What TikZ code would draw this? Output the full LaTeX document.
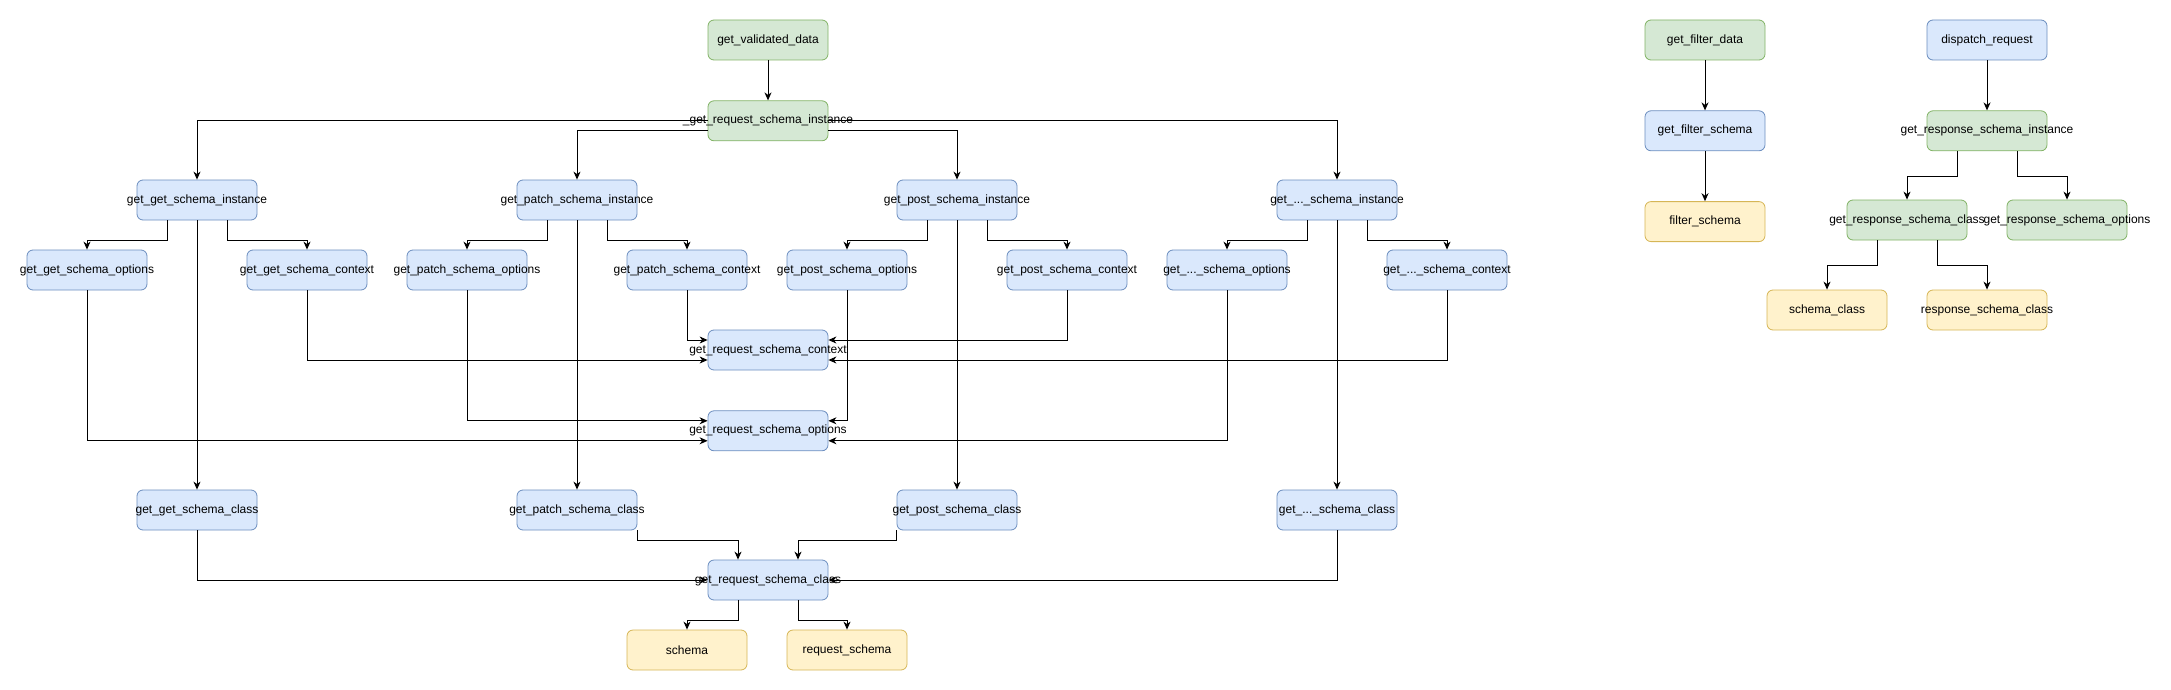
\documentclass[tikz,border=0pt]{standalone}
\usepackage{fontspec}
\setmainfont{Liberation Sans}
\usepackage{xcolor}
\usepackage{tikz}
\usetikzlibrary{arrows.meta, positioning, calc}

\definecolor{greenfill}{HTML}{D5E8D4}
\definecolor{greendraw}{HTML}{82B366}
\definecolor{bluefill}{HTML}{DAE8FC}
\definecolor{bluedraw}{HTML}{6C8EBF}
\definecolor{yellowfill}{HTML}{FFF2CC}
\definecolor{yellowdraw}{HTML}{D6B656}

\begin{document}
\begin{tikzpicture}[
			x=1pt, y=-1pt,
			font=\fontsize{12}{14}\selectfont,
			block/.style = {rectangle, draw, rounded corners=6pt, line width=0.8pt,
					minimum width=120pt, minimum height=40pt, inner sep=0pt,
					execute at begin node={\hbox to 0pt\bgroup\hss},
					execute at end node={\hss\egroup}},
			greenblock/.style = {block, draw=greendraw, fill=greenfill},
			blueblock/.style = {block, draw=bluedraw, fill=bluefill},
			yellowblock/.style = {block, draw=yellowdraw, fill=yellowfill},
			line/.style = {draw, line width=1pt, -{Stealth[length=8pt, width=7pt, inset=2.5pt]}},
		]
		\useasboundingbox (0,0) rectangle (2171,690);

		% Request validation
		\node [greenblock] at (768,40) (validateddata) {get\_validated\_data};
		\node [greenblock, below=40pt of validateddata] (requestinstance) {\_get\_request\_schema\_instance};

		% Schema instances
		\node [blueblock] at (197,200) (getinstance) {get\_get\_schema\_instance};
		\node [blueblock] at (577,200) (patchinstance) {get\_patch\_schema\_instance};
		\node [blueblock] at (957,200) (postinstance) {get\_post\_schema\_instance};
		\node [blueblock] at (1337,200) (otherinstance) {get\_...\_schema\_instance};

		% Options and contexts
		\node [blueblock] at (87,270) (getoptions) {get\_get\_schema\_options};
		\node [blueblock] at (307,270) (getcontext) {get\_get\_schema\_context};
		\node [blueblock] at (467,270) (patchoptions) {get\_patch\_schema\_options};
		\node [blueblock] at (687,270) (patchcontext) {get\_patch\_schema\_context};
		\node [blueblock] at (847,270) (postoptions) {get\_post\_schema\_options};
		\node [blueblock] at (1067,270) (postcontext) {get\_post\_schema\_context};
		\node [blueblock] at (1227,270) (otheroptions) {get\_...\_schema\_options};
		\node [blueblock] at (1447,270) (othercontext) {get\_...\_schema\_context};

		\node [blueblock] at (768,350) (requestcontext) {get\_request\_schema\_context};
		\node [blueblock, below=40pt of requestcontext] (requestoptions) {get\_request\_schema\_options};

		% Schema classes
		\node [blueblock] at (197,510) (getclass) {get\_get\_schema\_class};
		\node [blueblock] at (577,510) (patchclass) {get\_patch\_schema\_class};
		\node [blueblock] at (957,510) (postclass) {get\_post\_schema\_class};
		\node [blueblock] at (1337,510) (otherclass) {get\_...\_schema\_class};
		\node [blueblock] at (768,580) (requestclass) {get\_request\_schema\_class};

		\node [yellowblock] at (687,650) (schema) {schema};
		\node [yellowblock] at (847,650) (requestschema) {request\_schema};

		% Filter
		\node [greenblock] at (1705,40) (filterdata) {get\_filter\_data};
		\node [blueblock, below=50pt of filterdata] (getfilterschema) {get\_filter\_schema};
		\node [yellowblock, below=50pt of getfilterschema] (filterschema) {filter\_schema};

		% Response
		\node [blueblock] at (1987,40) (dispatch) {dispatch\_request};
		\node [greenblock, below=50pt of dispatch] (responseinstance) {get\_response\_schema\_instance};
		\node [greenblock] at (1907,220) (responseclass) {get\_response\_schema\_class};
		\node [greenblock] at (2067,220) (responseoptions) {get\_response\_schema\_options};
		\node [yellowblock] at (1827,310) (schemaclass) {schema\_class};
		\node [yellowblock] at (1987,310) (responseschemaclass) {response\_schema\_class};

		% Draw arrows
		\path [line] (validateddata) -- (requestinstance);
		\path [line] (requestinstance.west) -| (getinstance.north);
		\path [line] ($(requestinstance.west)+(0,10)$) -| (patchinstance.north);
		\path [line] ($(requestinstance.east)+(0,10)$) -| (postinstance.north);
		\path [line] (requestinstance.east) -| (otherinstance.north);

		\path [line] ($(getinstance.south)+(-30,0)$) -- ++(0,20) -| (getoptions.north);
		\path [line] ($(getinstance.south)+(30,0)$) -- ++(0,20) -| (getcontext.north);
		\path [line] (getinstance) -- (getclass);
		\path [line] ($(patchinstance.south)+(-30,0)$) -- ++(0,20) -| (patchoptions.north);
		\path [line] ($(patchinstance.south)+(30,0)$) -- ++(0,20) -| (patchcontext.north);
		\path [line] (patchinstance) -- (patchclass);
		\path [line] ($(postinstance.south)+(-30,0)$) -- ++(0,20) -| (postoptions.north);
		\path [line] ($(postinstance.south)+(30,0)$) -- ++(0,20) -| (postcontext.north);
		\path [line] (postinstance) -- (postclass);
		\path [line] ($(otherinstance.south)+(-30,0)$) -- ++(0,20) -| (otheroptions.north);
		\path [line] ($(otherinstance.south)+(30,0)$) -- ++(0,20) -| (othercontext.north);
		\path [line] (otherinstance) -- (otherclass);

		\path [line] (getoptions.south) |- ($(requestoptions.west)+(0,10)$);
		\path [line] (getcontext.south) |- ($(requestcontext.west)+(0,10)$);
		\path [line] (patchoptions.south) |- ($(requestoptions.west)+(0,-10)$);
		\path [line] (patchcontext.south) |- ($(requestcontext.west)+(0,-10)$);
		\path [line] (postoptions.south) |- ($(requestoptions.east)+(0,-10)$);
		\path [line] (postcontext.south) |- ($(requestcontext.east)+(0,-10)$);
		\path [line] (otheroptions.south) |- ($(requestoptions.east)+(0,10)$);
		\path [line] (othercontext.south) |- ($(requestcontext.east)+(0,10)$);

		\path [line] (getclass.south) |- (requestclass.west);
		\path [line] (patchclass.south east) -- ++(0,10) -| ($(requestclass.north)+(-30,0)$);
		\path [line] (postclass.south west) -- ++(0,10) -| ($(requestclass.north)+(30,0)$);
		\path [line] (otherclass.south) |- (requestclass.east);
		\path [line] ($(requestclass.south)+(-30,0)$) -- ++(0,20) -| (schema.north);
		\path [line] ($(requestclass.south)+(30,0)$) -- ++(0,20) -| (requestschema.north);

		\path [line] (filterdata) -- (getfilterschema);
		\path [line] (getfilterschema) -- (filterschema);

		\path [line] (dispatch) -- (responseinstance);
		\path [line] ($(responseinstance.south)+(-30,0)$) -- ++(0,25) -| (responseclass.north);
		\path [line] ($(responseinstance.south)+(30,0)$) -- ++(0,25) -| (responseoptions.north);
		\path [line] ($(responseclass.south)+(-30,0)$) -- ++(0,25) -| (schemaclass.north);
		\path [line] ($(responseclass.south)+(30,0)$) -- ++(0,25) -| (responseschemaclass.north);

	\end{tikzpicture}
\end{document}
